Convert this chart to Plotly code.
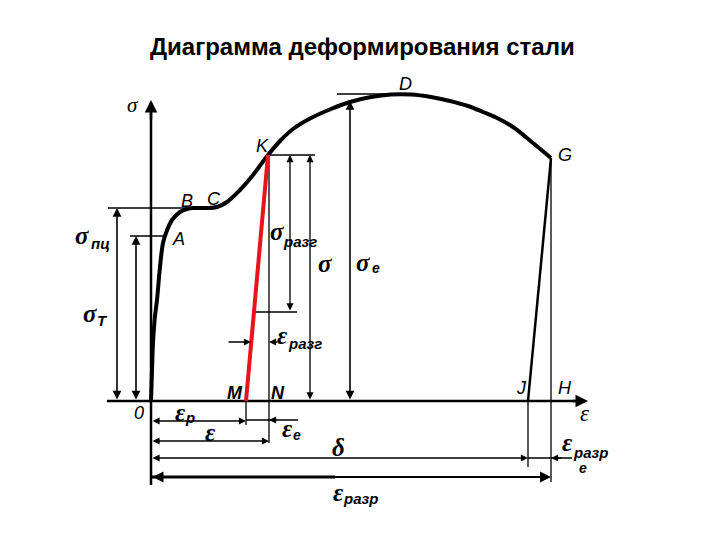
import plotly.graph_objects as go

# ---- data (strain eps, stress sig in drawing units; origin at O) ----
curve_eps = [0, 1, 2, 4, 6, 9, 12, 15, 21, 29, 36, 42, 55, 66, 76, 89, 102, 117,
             129, 142, 160, 180, 199, 220, 240, 260, 280, 299, 317, 332, 348, 362, 382, 400]
curve_sig = [0, 30, 58, 85, 101, 134, 158, 168, 181, 189, 192, 193, 193, 194, 199, 211, 226, 246,
             260, 272, 283, 292, 299, 304, 306.5, 306.5, 304, 300, 295, 289, 282, 274, 258, 243]
fracture_eps = [400, 377]
fracture_sig = [243, 0]
unload_eps = [95, 117]
unload_sig = [0, 246]

eps_M, eps_N, eps_J, eps_H = 95, 118, 377, 400
sig_A, sig_B, sig_K, sig_D = 165, 193, 246, 307

fig = go.Figure()
fig.add_trace(go.Scatter(x=curve_eps, y=curve_sig, mode="lines",
                         line=dict(color="black", width=4, shape="spline", smoothing=1.0),
                         hoverinfo="skip"))
fig.add_trace(go.Scatter(x=fracture_eps, y=fracture_sig, mode="lines",
                         line=dict(color="black", width=2.5), hoverinfo="skip"))
fig.add_trace(go.Scatter(x=unload_eps, y=unload_sig, mode="lines",
                         line=dict(color="#e8141c", width=4), hoverinfo="skip"))

shapes = []
def line(x0, y0, x1, y1, w=1.3):
    shapes.append(dict(type="line", x0=x0, y0=y0, x1=x1, y1=y1, xref="x", yref="y",
                       line=dict(color="black", width=w), layer="below"))

ann = []
def arrow(x0, y0, x1, y1, both=False, w=1.3, size=1.1):
    ann.append(dict(x=x1, y=y1, ax=x0, ay=y0, xref="x", yref="y", axref="x", ayref="y",
                    text="", showarrow=True, arrowhead=2, arrowsize=size, arrowwidth=w,
                    arrowcolor="black", arrowside="end+start" if both else "end",
                    standoff=0, startstandoff=0))

def txt(x, y, s, size=18, fam="Liberation Sans", italic=True, bold=False):
    t = s
    if bold:
        t = "<b>" + t + "</b>"
    if italic:
        t = "<i>" + t + "</i>"
    ann.append(dict(x=x, y=y, xref="x", yref="y", text=t, showarrow=False,
                    font=dict(family=fam, size=size, color="black"),
                    xanchor="center", yanchor="middle"))

# axes
line(0, -84, 0, 290, w=2.5)
arrow(0, 280, 0, 301, w=2.5, size=1)
line(-44, 0, 425, 0, w=2.5)
arrow(420, 0, 437, 0, w=2.5, size=1)

# vertical extension lines
line(eps_N, sig_K, eps_N, -42)
line(eps_M, 0, eps_M, -24)
line(eps_J, 0, eps_J, -66)
line(eps_H, 243, eps_H, -81)

# horizontal extension lines
line(-43, sig_B, 40, sig_B)
line(-21, sig_A, 14, sig_A)
line(eps_N, sig_K, 164, sig_K)
line(104, 89, 146, 89)
line(186, sig_D, 240, sig_D)

# vertical dimension arrows
arrow(-34, 0, -34, sig_B, both=True, w=1.6)
arrow(-15, 0, -15, sig_A, both=True, w=1.6)
arrow(139, 89, 139, sig_K, both=True)
arrow(159, 0, 159, sig_K, both=True)
arrow(199, 0, 199, 300, both=True, w=1.6)

# strain dimension arrows
arrow(0, -20, eps_M, -20, both=True)
line(eps_M, -19, 147, -19)
arrow(127, -19, eps_N, -19)
arrow(0, -40, eps_N, -40, both=True)
arrow(0, -57, eps_J, -57, both=True)
line(eps_J, -57, 421, -57)
arrow(412, -57, eps_H, -57)
arrow(0, -76, eps_H, -76, both=True, w=2)
line(0, -76, 184, -76, w=3)
arrow(76, 59, 100, 59)
arrow(128, 59, eps_N, 59)

G = "Liberation Serif"
GS = 25
# point labels
txt(254, 317, "D")
txt(111, 255, "K")
txt(414, 246, "G")
txt(36, 200, "B")
txt(63, 202, "C")
txt(27, 162, "A")
txt(84, 8, "M", bold=True)
txt(127, 8, "N", bold=True)
txt(370, 13, "J")
txt(414, 13, "H")
txt(-12, -12, "0", size=18)

# greek labels
txt(-18, 296, "σ", size=21, fam=G)
txt(-69, 166, "<b>σ</b>", size=GS, fam=G)
txt(-51, 158, "пц", size=15, bold=True)
txt(-61, 88, "<b>σ</b>", size=GS, fam=G)
txt(-49, 81, "T", size=15, bold=True)
txt(126, 170, "<b>σ</b>", size=GS, fam=G)
txt(149, 160, "разг", size=15, bold=True)
txt(174, 138, "<b>σ</b>", size=GS, fam=G)
txt(212, 139, "<b>σ</b>", size=GS, fam=G)
txt(225, 133, "е", size=14, bold=True)
txt(131, 66, "<b>ε</b>", size=GS, fam=G)
txt(154, 58, "разг", size=15, bold=True)
txt(29, -11, "<b>ε</b>", size=GS, fam=G)
txt(39, -16, "р", size=15, bold=True)
txt(59, -31, "<b>ε</b>", size=GS, fam=G)
txt(136, -27, "<b>ε</b>", size=GS, fam=G)
txt(146, -34, "е", size=14, bold=True)
txt(187, -46, "<b>δ</b>", size=GS, fam=G)
txt(434, -12, "ε", size=23, fam=G)
txt(416, -41, "<b>ε</b>", size=GS, fam=G)
txt(439, -51, "разр", size=15, bold=True)
txt(432, -67, "е", size=14, bold=True)
txt(187, -91, "<b>ε</b>", size=GS, fam=G)
txt(209, -97, "разр", size=15, bold=True)

# title
txt(211, 355, "Диаграмма деформирования стали", size=24, italic=False, bold=True)

# page body has an 8px margin: figure is 704x524 placed at (8,8)
fig.update_layout(
    width=704, height=524, margin=dict(l=0, r=0, t=0, b=0),
    paper_bgcolor="white", plot_bgcolor="white", showlegend=False,
    xaxis=dict(range=[-143, 561], visible=False, fixedrange=True),
    yaxis=dict(range=[-131, 393], visible=False, fixedrange=True),
    shapes=shapes, annotations=ann,
)
fig.write_html("out.html")
